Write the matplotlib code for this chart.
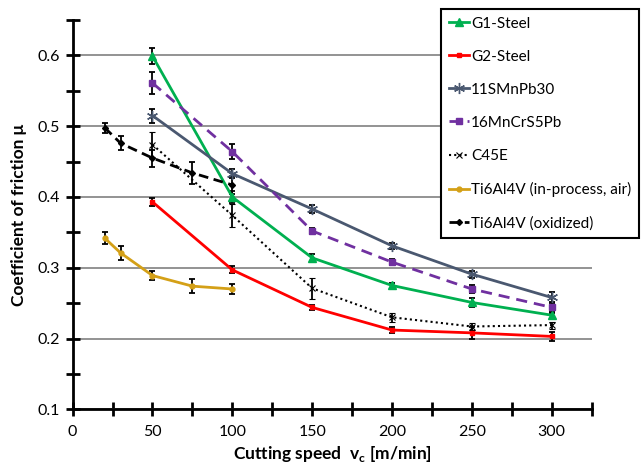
import matplotlib
matplotlib.use("Agg")
import matplotlib.pyplot as plt
from matplotlib.ticker import MultipleLocator
from matplotlib.lines import Line2D

plt.rcParams['font.family'] = ['Lato', 'DejaVu Sans']

# data
v_steel = [50, 100, 150, 200, 250, 300]
v_ti = [20, 30, 50, 75, 100]

g1 = [0.599, 0.400, 0.314, 0.275, 0.251, 0.233]
g1_err = [0.011, 0.008, 0.005, 0.004, 0.006, 0.004]
g2 = [0.393, 0.297, 0.244, 0.212, 0.208, 0.203]
g2_err = [0.006, 0.005, 0.004, 0.004, 0.008, 0.006]
smn = [0.515, 0.433, 0.383, 0.331, 0.291, 0.258]
smn_err = [0.010, 0.006, 0.005, 0.004, 0.005, 0.008]
mncr = [0.561, 0.464, 0.352, 0.308, 0.270, 0.244]
mncr_err = [0.015, 0.011, 0.004, 0.004, 0.005, 0.008]
c45 = [0.474, 0.374, 0.271, 0.230, 0.217, 0.219]
c45_err = [0.018, 0.016, 0.015, 0.006, 0.005, 0.005]
ti_air = [0.342, 0.321, 0.289, 0.274, 0.270]
ti_air_err = [0.008, 0.010, 0.007, 0.010, 0.007]
ti_ox = [0.498, 0.476, 0.455, 0.434, 0.417]
ti_ox_err = [0.007, 0.010, 0.012, 0.015, 0.013]

fig = plt.figure(figsize=(6.43, 4.68), dpi=100)
ax = fig.add_axes([0.113, 0.1254, 0.807, 0.8318])

eb = dict(ecolor='black', elinewidth=1.3, capsize=2.5, capthick=1.3)

series = [
    (v_steel, g1, g1_err, dict(color='#00B050', lw=2, marker='^', ms=6), 'G1-Steel'),
    (v_steel, g2, g2_err, dict(color='#FF0000', lw=2, marker='s', ms=3), 'G2-Steel'),
    (v_steel, smn, smn_err, dict(color='#4A5870', lw=2, marker=(6, 2, 0), ms=8), '11SMnPb30'),
    (v_steel, mncr, mncr_err, dict(color='#7030A0', lw=2, ls=(0, (4, 2.5)), marker='s', ms=4), '16MnCrS5Pb'),
    (v_steel, c45, c45_err, dict(color='black', lw=1.5, ls=(0, (1, 1.5)), marker='x', ms=4, mew=0.8), 'C45E'),
    (v_ti, ti_air, ti_air_err, dict(color='#D4A017', lw=2, marker='o', ms=3.5), 'Ti6Al4V (in-process, air)'),
    (v_ti, ti_ox, ti_ox_err, dict(color='black', lw=2, ls=(0, (3.5, 2)), marker='D', ms=3), 'Ti6Al4V (oxidized)'),
]

handles = []
for x, y, err, style, name in series:
    ax.errorbar(x, y, yerr=err, **style, **eb)
    handles.append(Line2D([], [], **style, label=name))

ax.set_xlim(0, 325)
ax.set_ylim(0.1, 0.65)
ax.xaxis.set_major_locator(MultipleLocator(50))
ax.xaxis.set_minor_locator(MultipleLocator(25))
ax.yaxis.set_major_locator(MultipleLocator(0.1))
ax.yaxis.set_minor_locator(MultipleLocator(0.05))
ax.set_xticks(range(0, 301, 50))
ax.set_xticklabels([str(x) for x in range(0, 301, 50)])
ax.tick_params(which='both', direction='inout', length=10, width=2, labelsize=11.5)
ax.tick_params(axis='x', pad=6)
ax.tick_params(axis='y', pad=4)

ax.grid(axis='y', which='major', color='#808080', lw=1.2)
ax.set_axisbelow(True)
for s in ['top', 'right']:
    ax.spines[s].set_visible(False)
for s in ['left', 'bottom']:
    ax.spines[s].set_linewidth(2)

ax.set_xlabel('Cutting speed  v$_\\mathregular{c}$ [m/min]', fontsize=12.5, fontweight='bold', labelpad=4)
ax.set_ylabel('Coefficient of friction μ', fontsize=12.5, fontweight='bold', labelpad=8)

leg = fig.legend(handles=handles, loc='upper left', bbox_to_anchor=(0.686, 0.981), fontsize=11,
                 labelspacing=1.25, handlelength=1.3, handletextpad=0.15,
                 borderpad=0.5, borderaxespad=0, frameon=True, fancybox=False,
                 edgecolor='black', framealpha=1)
leg.get_frame().set_linewidth(1.5)

fig.savefig('out.png', dpi=100)
